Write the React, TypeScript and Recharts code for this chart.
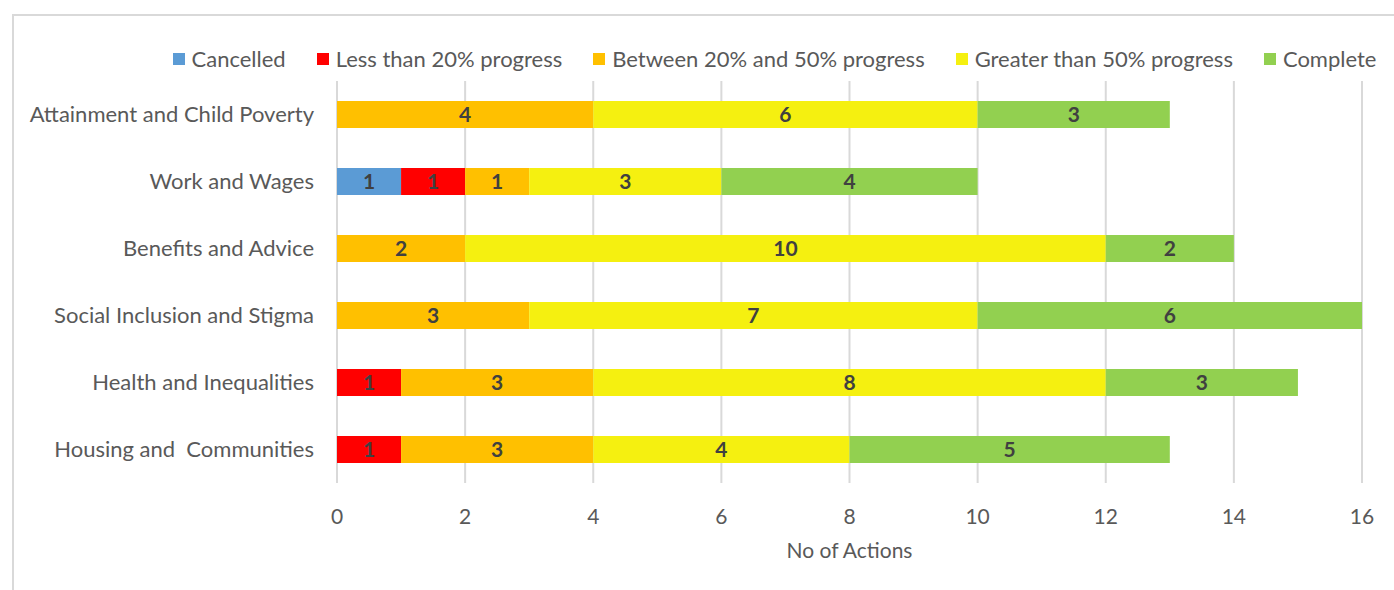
import React from 'react';
import { BarChart, Bar, XAxis, YAxis, CartesianGrid, Legend, LabelList, Label } from 'recharts';

const categories = [
  'Attainment and Child Poverty',
  'Work and Wages',
  'Benefits and Advice',
  'Social Inclusion and Stigma',
  'Health and Inequalities',
  'Housing and  Communities',
];
const cancelled = [0, 1, 0, 0, 0, 0];
const lessThan20 = [0, 1, 0, 0, 1, 1];
const between20and50 = [4, 1, 2, 3, 3, 3];
const greaterThan50 = [6, 3, 10, 7, 8, 4];
const complete = [3, 4, 2, 6, 3, 5];
const xTicks = [0, 2, 4, 6, 8, 10, 12, 14, 16];

const seriesDefs = [
  { key: 'cancelled', name: 'Cancelled', values: cancelled, color: '#5B9BD5' },
  { key: 'less', name: 'Less than 20% progress', values: lessThan20, color: '#FF0000' },
  { key: 'between', name: 'Between 20% and 50% progress', values: between20and50, color: '#FFC000' },
  { key: 'greater', name: 'Greater than 50% progress', values: greaterThan50, color: '#F5F010' },
  { key: 'complete', name: 'Complete', values: complete, color: '#92D050' },
];

const data = categories.map((c, i) => {
  const row: any = { category: c };
  seriesDefs.forEach((s) => { row[s.key] = s.values[i]; });
  return row;
});

const FONT = 'Lato, "Liberation Sans", sans-serif';
const TEXT = '#595959';

const renderLabel = (props: any) => {
  const { x, y, width, height, value } = props;
  if (!value) return null;
  return (
    <text x={x + width / 2} y={y + height / 2} dy={7.5} textAnchor="middle" fill="#404040"
      fontFamily={FONT} fontSize={21} fontWeight="bold">{value}</text>
  );
};

const YTick = (props: any) => {
  const { y, payload } = props;
  return (
    <text x={314} y={y} dy={7.5} textAnchor="end" fill={TEXT} fontFamily={FONT} fontSize={22}
      style={{ whiteSpace: 'pre' }}>{payload.value}</text>
  );
};

const XTick = (props: any) => {
  const { x, payload } = props;
  return (
    <text x={x} y={516} dy={7.5} textAnchor="middle" fill={TEXT} fontFamily={FONT} fontSize={21}>{payload.value}</text>
  );
};

const LegendContent = () => (
  <div style={{ display: 'flex', justifyContent: 'center', fontFamily: FONT, fontSize: 22, color: TEXT, lineHeight: '24px' }}>
    {seriesDefs.map((s, i) => (
      <div key={s.key} style={{ display: 'flex', alignItems: 'center', marginLeft: i === 0 ? 0 : 31 }}>
        <div style={{ width: 12, height: 12, background: s.color, marginRight: 7 }} />
        <span style={{ whiteSpace: 'nowrap' }}>{s.name}</span>
      </div>
    ))}
  </div>
);

export default function App() {
  return (
    <div style={{ position: 'absolute', left: 0, top: 0, width: 1394, height: 590, background: '#fff', overflow: 'hidden' }}>
      <div style={{ position: 'absolute', left: 12, top: 14, width: 1400, height: 600, borderLeft: '2px solid #d9d9d9', borderTop: '2px solid #d9d9d9', boxSizing: 'border-box' }} />
      <div style={{ position: 'absolute', left: 0, top: 0 }}>
        <BarChart width={1394} height={590} data={data} layout="vertical" barSize={27}
          margin={{ top: 81, right: 32, bottom: 27, left: 0 }}>
          <CartesianGrid horizontal={false} vertical={true} stroke="#d9d9d9" strokeWidth={2} />
          <XAxis type="number" domain={[0, 16]} ticks={xTicks} axisLine={false} tickLine={false}
            height={80} tick={<XTick />} interval={0}>
            <Label value="No of Actions" position="bottom" content={() => (
              <text x={849.5} y={551} dy={7} textAnchor="middle" fill={TEXT} fontFamily={FONT} fontSize={21}>No of Actions</text>
            )} />
          </XAxis>
          <YAxis type="category" dataKey="category" width={337} axisLine={false} tickLine={false}
            tick={<YTick />} interval={0} />
          <Legend verticalAlign="middle" align="center" layout="horizontal" content={<LegendContent />}
            wrapperStyle={{ position: 'absolute', top: 47, left: 155, width: 1239, height: 24 }} />
          {seriesDefs.map((s) => (
            <Bar key={s.key} dataKey={s.key} name={s.name} stackId="a" fill={s.color} isAnimationActive={false}>
              <LabelList dataKey={s.key} content={renderLabel} />
            </Bar>
          ))}
        </BarChart>
      </div>
    </div>
  );
}
